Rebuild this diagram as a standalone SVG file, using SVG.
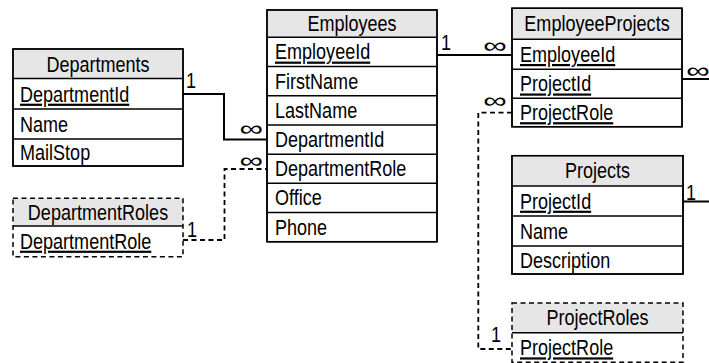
<svg xmlns="http://www.w3.org/2000/svg" width="709" height="363" viewBox="0 0 709 363">
<style>
text{font-family:"Liberation Sans",Arial,sans-serif;font-size:22px;fill:#000}
.h{text-anchor:middle}
.k{text-decoration:underline}
.box{fill:#fff;stroke:#000;stroke-width:1.5}
.hd{fill:#e6e6e6;stroke:none}
.ln{stroke:#000;stroke-width:1.5;fill:none}
.dbox{fill:none;stroke:#000;stroke-width:1.5;stroke-dasharray:5 3.5}
.c{fill:none;stroke:#000;stroke-width:2}
.cd{fill:none;stroke:#000;stroke-width:1.8;stroke-dasharray:5 3.5}
.inf{text-anchor:middle}
</style>
<rect width="709" height="363" fill="#fff"/>
<g id="connectors">
<polyline class="c" points="183,94 224,94 224,139.5 267,139.5"/>
<polyline class="cd" points="183,240 224.5,240 224.5,169 267,169"/>
<polyline class="c" points="437,55 512,55"/>
<polyline class="c" points="682,79 709,79"/>
<polyline class="c" points="683,201.5 709,201.5"/>
<polyline class="cd" points="512,112.7 478.3,112.7 478.3,349 512,349"/>
<text transform="matrix(0.82,0,0,1,186,88)">1</text>
<text transform="matrix(0.82,0,0,1,187,237)">1</text>
<text transform="matrix(0.82,0,0,1,441,50)">1</text>
<text transform="matrix(0.82,0,0,1,686,200)">1</text>
<text transform="matrix(0.82,0,0,1,491,341.5)">1</text>
<text class="inf" transform="matrix(1.5,0,0,1,251.2,136)">∞</text>
<text class="inf" transform="matrix(1.5,0,0,1,251.2,168)">∞</text>
<text class="inf" transform="matrix(1.5,0,0,1,495,53)">∞</text>
<text class="inf" transform="matrix(1.5,0,0,1,698,78)">∞</text>
<text class="inf" transform="matrix(1.5,0,0,1,495,108)">∞</text>
</g>
<g id="Departments">
<rect class="box" x="13" y="49" width="170" height="117"/>
<rect class="hd" x="13.75" y="49.75" width="168.5" height="28.75"/>
<path class="ln" d="M13,49H183V166H13Z M13,78.5H183 M13,109H183 M13,139H183"/>
<text class="h" transform="matrix(0.82,0,0,1,98,71.5)">Departments</text>
<text class="k" transform="matrix(0.82,0,0,1,20,101.5)">DepartmentId</text>
<text transform="matrix(0.82,0,0,1,20,131.5)">Name</text>
<text transform="matrix(0.82,0,0,1,20,160)">MailStop</text>
</g>
<g id="DepartmentRoles">
<rect class="hd" x="13" y="198.3" width="170" height="27.7"/>
<rect class="dbox" x="13" y="198.3" width="170" height="58.4"/>
<path class="ln" d="M13,226H183"/>
<text class="h" transform="matrix(0.82,0,0,1,98,219.5)">DepartmentRoles</text>
<text class="k" transform="matrix(0.82,0,0,1,20,248.5)">DepartmentRole</text>
</g>
<g id="Employees">
<rect class="box" x="267" y="10" width="170" height="231.7"/>
<rect class="hd" x="267.75" y="10.75" width="168.5" height="26.55"/>
<path class="ln" d="M267,10H437V241.7H267Z M267,37.3H437 M267,66.5H437 M267,95.8H437 M267,125H437 M267,154.2H437 M267,183.3H437 M267,212.5H437"/>
<text class="h" transform="matrix(0.82,0,0,1,352,31)">Employees</text>
<text class="k" transform="matrix(0.82,0,0,1,275,59.4)">EmployeeId</text>
<text transform="matrix(0.82,0,0,1,275,88.6)">FirstName</text>
<text transform="matrix(0.82,0,0,1,275,117.9)">LastName</text>
<text transform="matrix(0.82,0,0,1,275,147.1)">DepartmentId</text>
<text transform="matrix(0.82,0,0,1,275,176.2)">DepartmentRole</text>
<text transform="matrix(0.82,0,0,1,275,205.4)">Office</text>
<text transform="matrix(0.82,0,0,1,275,234.6)">Phone</text>
</g>
<g id="EmployeeProjects">
<rect class="box" x="512" y="8.3" width="170" height="118.4"/>
<rect class="hd" x="512.75" y="9.05" width="168.5" height="30.25"/>
<path class="ln" d="M512,8.3H682V126.7H512Z M512,39.3H682 M512,69.3H682 M512,98.3H682"/>
<text class="h" transform="matrix(0.82,0,0,1,597,31.3)">EmployeeProjects</text>
<text class="k" transform="matrix(0.82,0,0,1,520,61.8)">EmployeeId</text>
<text class="k" transform="matrix(0.82,0,0,1,520,91.3)">ProjectId</text>
<text class="k" transform="matrix(0.82,0,0,1,520,120)">ProjectRole</text>
</g>
<g id="Projects">
<rect class="box" x="512" y="155.7" width="171" height="118.3"/>
<rect class="hd" x="512.75" y="156.45" width="169.5" height="29.55"/>
<path class="ln" d="M512,155.7H683V274H512Z M512,186H683 M512,216H683 M512,246H683"/>
<text class="h" transform="matrix(0.82,0,0,1,597.5,178.4)">Projects</text>
<text class="k" transform="matrix(0.82,0,0,1,520,208.5)">ProjectId</text>
<text transform="matrix(0.82,0,0,1,520,238.5)">Name</text>
<text transform="matrix(0.82,0,0,1,520,267.5)">Description</text>
</g>
<g id="ProjectRoles">
<rect class="hd" x="512" y="303" width="171" height="29.7"/>
<rect class="dbox" x="512" y="303" width="171" height="59.2"/>
<path class="ln" d="M512,332.7H683"/>
<text class="h" transform="matrix(0.82,0,0,1,597.5,325.4)">ProjectRoles</text>
<text class="k" transform="matrix(0.82,0,0,1,520,355.2)">ProjectRole</text>
</g>
</svg>
